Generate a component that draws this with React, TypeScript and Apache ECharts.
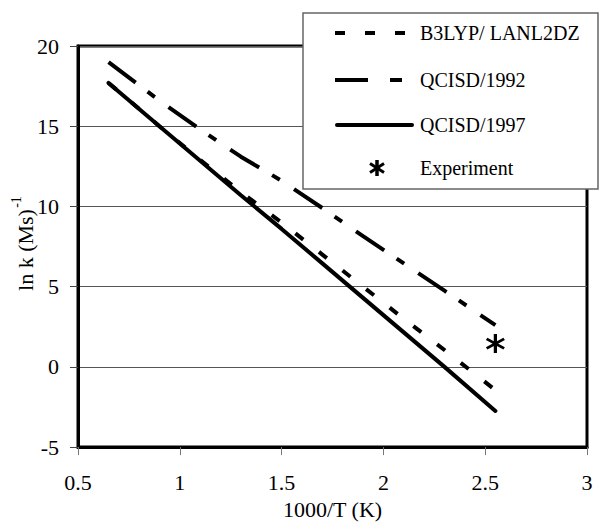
import React, { useEffect, useRef } from "react";
import * as echarts from "echarts";

const xValues = [0.65, 0.9, 1.1, 1.3, 1.5, 1.7, 1.9, 2.1, 2.3, 2.55];
const b3lyp = [17.7, 15.0, 12.9, 10.9, 9.0, 7.0, 5.0, 3.0, 1.05, -1.45];
const qcisd1992 = [19.0, 16.6, 14.8, 13.1, 11.6, 9.9, 8.15, 6.45, 4.75, 2.6];
const qcisd1997 = [17.7, 15.0, 12.85, 10.7, 8.6, 6.45, 4.3, 2.15, 0.0, -2.75];
const experiment = [[2.55, 1.45]];
const seriesNames = ["B3LYP/ LANL2DZ", "QCISD/1992", "QCISD/1997", "Experiment"];
const xTitle = "1000/T (K)";
const yTitle = "ln k (Ms)";
const yTitleSup = "-1";

const FONT = "Liberation Serif";

const asterisk =
  "path://M-1.6,-10L1.6,-10L1.6,10L-1.6,10Z" +
  "M7.91,-6.3L9.41,-3.7L-7.91,6.3L-9.41,3.7Z" +
  "M-9.41,-3.7L-7.91,-6.3L9.41,3.7L7.91,6.3Z";

const pairs = (ys: number[]) => xValues.map((x, i) => [x, ys[i]]);

export default function App() {
  const ref = useRef<HTMLDivElement>(null);
  useEffect(() => {
    if (!ref.current) return;
    const chart = echarts.init(ref.current, undefined, { renderer: "svg" });
    const legendX0 = 335;
    const legendRows = [33, 80, 125, 168];
    chart.setOption({
      animation: false,
      backgroundColor: "#fff",
      grid: {
        left: 78,
        top: 46,
        right: 22,
        bottom: 69,
        show: true,
        borderColor: "#000",
        borderWidth: 3,
        backgroundColor: "#fff",
      },
      xAxis: {
        type: "value",
        min: 0.5,
        max: 3,
        interval: 0.5,
        name: xTitle,
        nameLocation: "middle",
        nameGap: 40,
        nameTextStyle: { fontFamily: FONT, fontSize: 22, color: "#000" },
        axisLine: { show: true, onZero: false, lineStyle: { color: "#000", width: 3 } },
        axisTick: { show: true, inside: false, length: 8, lineStyle: { color: "#777", width: 1 } },
        axisLabel: { fontFamily: FONT, fontSize: 22, color: "#000", margin: 24 },
        splitLine: { show: false },
      },
      yAxis: {
        type: "value",
        min: -5,
        max: 20,
        interval: 5,
        axisLine: { show: true, onZero: false, lineStyle: { color: "#000", width: 3 } },
        axisTick: { show: true, inside: false, length: 8, lineStyle: { color: "#444", width: 1 } },
        axisLabel: { fontFamily: FONT, fontSize: 22, color: "#000", margin: 19 },
        splitLine: { show: true, lineStyle: { color: "#555", width: 1 } },
      },
      series: [
        {
          name: seriesNames[0],
          type: "line",
          data: pairs(b3lyp),
          showSymbol: false,
          symbol: "none",
          lineStyle: { color: "#000", width: 4, type: [10, 20], cap: "butt" },
          z: 3,
        },
        {
          name: seriesNames[1],
          type: "line",
          data: pairs(qcisd1992),
          showSymbol: false,
          symbol: "none",
          lineStyle: { color: "#000", width: 4, type: [34, 15, 9, 17], cap: "butt" },
          z: 3,
        },
        {
          name: seriesNames[2],
          type: "line",
          data: pairs(qcisd1997),
          showSymbol: false,
          symbol: "none",
          lineStyle: { color: "#000", width: 4, type: "solid", cap: "round" },
          z: 4,
        },
        {
          name: seriesNames[3],
          type: "scatter",
          data: experiment,
          symbol: asterisk,
          symbolSize: [19, 19],
          itemStyle: { color: "#000", opacity: 1 },
          z: 5,
        },
      ],
      graphic: [
        {
          type: "rect",
          shape: { x: 303, y: 13, width: 295, height: 176 },
          style: { fill: "#fff", stroke: "#666", lineWidth: 1.5 },
          z: 100,
        },
        {
          type: "line",
          shape: { x1: legendX0, y1: legendRows[0], x2: 406, y2: legendRows[0] },
          style: { stroke: "#000", lineWidth: 4, lineDash: [10, 20], lineCap: "butt" },
          z: 101,
        },
        {
          type: "line",
          shape: { x1: legendX0, y1: legendRows[1], x2: 402, y2: legendRows[1] },
          style: { stroke: "#000", lineWidth: 4, lineDash: [33, 22, 12, 22], lineCap: "butt" },
          z: 101,
        },
        {
          type: "line",
          shape: { x1: legendX0 + 2, y1: legendRows[2], x2: 412, y2: legendRows[2] },
          style: { stroke: "#000", lineWidth: 4, lineCap: "round" },
          z: 101,
        },
        {
          type: "line",
          z: 102,
          shape: { x1: 377, y1: legendRows[3] - 8, x2: 377, y2: legendRows[3] + 8 },
          style: { stroke: "#000", lineWidth: 3.5 },
        },
        {
          type: "line",
          z: 102,
          shape: { x1: 370, y1: legendRows[3] - 4.5, x2: 384, y2: legendRows[3] + 4.5 },
          style: { stroke: "#000", lineWidth: 3 },
        },
        {
          type: "line",
          z: 102,
          shape: { x1: 370, y1: legendRows[3] + 4.5, x2: 384, y2: legendRows[3] - 4.5 },
          style: { stroke: "#000", lineWidth: 3 },
        },
        ...seriesNames.map((n, i) => ({
          type: "text",
          x: 420,
          y: legendRows[i],
          z: 101,
          style: {
            text: n,
            font: `20px "${FONT}"`,
            fill: "#000",
            verticalAlign: "middle",
          },
        })),
        {
          type: "text",
          x: 25,
          y: 250,
          rotation: Math.PI / 2,
          z: 101,
          style: {
            text: yTitle,
            font: `22px "${FONT}"`,
            fill: "#000",
            align: "center",
            verticalAlign: "middle",
          },
        },
        {
          type: "text",
          x: 16,
          y: 202,
          rotation: Math.PI / 2,
          z: 101,
          style: {
            text: yTitleSup,
            font: `14px "${FONT}"`,
            fill: "#000",
            align: "center",
            verticalAlign: "middle",
          },
        },
      ],
    });
    return () => chart.dispose();
  }, []);
  return (
    <div
      ref={ref}
      style={{ position: "fixed", left: 0, top: 0, width: 609, height: 525 }}
    />
  );
}
